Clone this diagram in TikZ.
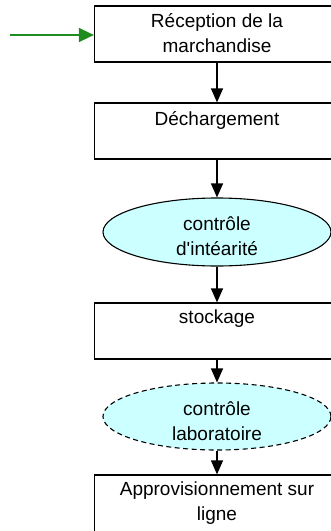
\documentclass[tikz,border=0pt]{standalone}
\usepackage{fontspec}
\setmainfont{Liberation Sans}
\usetikzlibrary{arrows.meta,shapes.geometric}
\definecolor{procfill}{RGB}{204,255,255}
\definecolor{feedgreen}{RGB}{30,140,30}
\begin{document}
\begin{tikzpicture}[x=1pt,y=-1pt,
  stepbox/.style={draw=black,line width=1.2pt,rectangle,minimum width=245pt,inner sep=0pt},
  checkshape/.style={draw=black,line width=1.1pt,ellipse,fill=procfill,minimum width=228pt,minimum height=68pt,inner sep=0pt},
  txt/.style={align=center,inner sep=0pt,anchor=base,font=\fontsize{19}{24.5}\selectfont},
  flow/.style={draw=black,line width=1.2pt,-{Triangle[length=14pt,width=12pt]}},
  feed/.style={draw=feedgreen,line width=1.4pt,-{Triangle[length=15pt,width=14pt]}}]
\useasboundingbox (0,0) rectangle (331,531);
\clip (0,0) rectangle (331,531);

% process boxes (right side runs past the page edge)
\node[stepbox,minimum height=56pt] (b1) at (217,34) {};
\node[stepbox,minimum height=56pt] (b2) at (217,131) {};
\node[stepbox,minimum height=56pt] (b3) at (217,331) {};
\node[stepbox,minimum height=72pt] (b4) at (217,511) {};

% control steps
\node[checkshape] (e1) at (217,232) {};
\node[checkshape,dashed,dash pattern=on 5pt off 3.5pt,minimum height=67pt] (e2) at (217,416.5) {};

% labels (base anchor = baseline of the last line)
\node[txt] (t1) at (217,52) {Réception de la\\marchandise};
\node[txt] (t2) at (217,125) {Déchargement};
\node[txt] (t3) at (217,255) {contrôle\\d\textquotesingle intéarité};
\node[txt] (t4) at (217,323) {stockage};
\node[txt] (t5) at (217,440) {contrôle\\laboratoire};
\node[txt] (t6) at (217,520) {Approvisionnement sur\\ligne};

% incoming goods
\coordinate (in) at (10,35);
\draw[feed] (in) -- (in -| b1.west);

% flow between steps
\draw[flow] (b1.south) -- (b2.north);
\draw[flow] (b2.south) -- (e1.north);
\draw[flow] (e1.south) -- (b3.north);
\draw[flow] (b3.south) -- (e2.north);
\draw[flow] (e2.south) -- (b4.north);
\end{tikzpicture}
\end{document}
